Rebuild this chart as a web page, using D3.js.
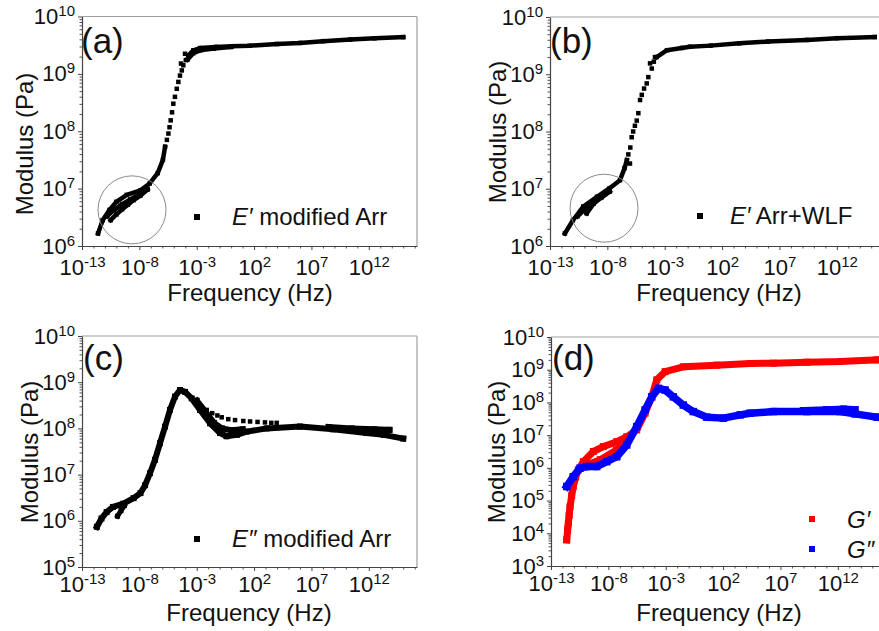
<!DOCTYPE html>
<html>
<head>
<meta charset="utf-8">
<script src="https://cdn.jsdelivr.net/npm/d3@7"></script>
<style>
  body { margin: 0; background: #fff; }
  svg { display: block; font-family: "Liberation Sans", Arial, sans-serif; }
</style>
</head>
<body>
<div id="chart"></div>
<script>
// every point is [log10 frequency (Hz), log10 modulus (Pa)]

// (a) E' modified Arrhenius
var aLowMain = [[-11.6, 6.22], [-11.2, 6.45], [-10.6, 6.63], [-10.0, 6.77], [-9.1, 6.89], [-7.9, 6.97],
  [-7.1, 7.09], [-6.4, 7.27], [-5.95, 7.5], [-5.76, 7.73]];
var aLowMid = [[-10.8, 6.52], [-10.2, 6.63], [-9.5, 6.73], [-8.8, 6.81], [-8.0, 6.9], [-7.3, 7.0]];
var aLowBranch = [[-10.5, 6.45], [-10.0, 6.55], [-9.5, 6.64], [-9.0, 6.72], [-8.5, 6.8], [-7.9, 6.88], [-7.3, 6.98]];
var aRise = [[-5.6, 7.85], [-5.47, 7.96], [-5.37, 8.07], [-5.27, 8.19], [-5.15, 8.33], [-5.04, 8.48], [-4.9, 8.6],
  [-4.74, 8.74], [-4.6, 8.86], [-4.46, 8.97], [-4.3, 9.06], [-4.17, 9.15], [-3.95, 9.24], [-4.37, 9.18], [-4.02, 9.35]];
var aPlateau = [[-3.73, 9.32], [-3.3, 9.41], [-2.7, 9.45], [-1.3, 9.47], [0, 9.48], [1.6, 9.49], [4, 9.52],
  [6, 9.54], [8, 9.57], [10.4, 9.6], [12.5, 9.62], [15, 9.64]];
var aKnee = [[-3.8, 9.25], [-3.3, 9.36], [-2.7, 9.41], [-1.5, 9.44], [0, 9.47]];

// (b) E' Arrhenius + WLF
var bLowMain = [[-11.7, 6.22], [-11.0, 6.45], [-10.1, 6.69], [-8.9, 6.86], [-7.8, 7.01], [-6.9, 7.15],
  [-6.5, 7.36], [-6.3, 7.5]];
var bLowMid = [[-10.6, 6.52], [-10.0, 6.63], [-9.3, 6.75], [-8.6, 6.84], [-7.8, 6.96]];
var bLowBranch = [[-9.8, 6.57], [-9.2, 6.74], [-8.5, 6.85], [-7.8, 6.95]];
var bRise = [[-6.17, 7.6], [-6.03, 7.44], [-6.0, 7.72], [-5.88, 7.9], [-5.75, 8.0], [-5.6, 8.1], [-5.44, 8.19],
  [-5.3, 8.32], [-5.15, 8.55], [-5.0, 8.64], [-4.8, 8.75], [-4.57, 8.84], [-4.43, 8.95], [-4.28, 9.19],
  [-4.13, 9.1], [-3.95, 9.22], [-3.85, 9.3]];
var bPlateau = [[-3.7, 9.3], [-2.8, 9.42], [-1.5, 9.46], [-0.8, 9.48], [1, 9.5], [3.5, 9.54], [6, 9.57],
  [9.4, 9.6], [12, 9.63], [15.3, 9.65]];

// (c) E'' modified Arrhenius
var cMain = [[-11.7, 5.87], [-11.3, 6.05], [-10.85, 6.19], [-10.3, 6.3], [-9.4, 6.37], [-8.5, 6.49], [-7.9, 6.6],
  [-7.5, 6.77], [-7.07, 7.03], [-6.64, 7.32], [-6.2, 7.68], [-5.76, 8.04], [-5.33, 8.4], [-4.89, 8.69],
  [-4.46, 8.83], [-4.02, 8.79], [-3.44, 8.65], [-2.71, 8.4], [-1.84, 8.11], [-0.97, 7.9], [-0.4, 7.83],
  [0.5, 7.86], [1.35, 7.93], [3.1, 8.0], [6.0, 8.04], [8.9, 7.98], [11.8, 7.9], [13.3, 7.86], [15.0, 7.78]];
var cHook = [[-9.9, 6.1], [-9.6, 6.22], [-9.3, 6.33]];
var cShoulder = [[-3.0, 8.6], [-2.2, 8.35], [-1.5, 8.12], [-0.8, 8.0], [0, 7.96], [1, 7.98]];
var cTail = [[8.5, 8.03], [10.5, 8.0], [12.5, 7.98], [13.8, 7.97]];
var cUpper = [[-2.13, 8.4], [-1.65, 8.33], [-1.2, 8.28], [-0.82, 8.24], [-0.25, 8.2], [0.34, 8.18], [1.06, 8.16],
  [1.65, 8.15], [2.3, 8.14], [2.95, 8.13], [3.5, 8.12], [3.97, 8.12]];

// (d) G' and G''
var dStorage = [[-11.63, 3.8], [-11.55, 4.1], [-11.49, 4.31], [-11.42, 4.55], [-11.34, 4.81], [-11.2, 5.15],
  [-11.06, 5.43], [-10.85, 5.72], [-10.62, 5.94], [-10.18, 6.19], [-9.31, 6.5], [-8.44, 6.65], [-7.27, 6.8],
  [-6.4, 6.95], [-5.53, 7.16], [-4.8, 7.67], [-4.22, 8.17], [-3.78, 8.69], [-3.06, 8.94], [-1.47, 9.09],
  [1.45, 9.14], [4.35, 9.19], [6.4, 9.2], [9.3, 9.23], [12.2, 9.25], [15.4, 9.3]];
var dStorageBranch = [[-9.8, 6.1], [-8.7, 6.25], [-7.3, 6.55], [-6.2, 6.9]];
var dLoss = [[-11.63, 5.43], [-11.06, 5.73], [-10.47, 5.99], [-9.89, 6.04], [-9.02, 6.04], [-8.14, 6.19],
  [-7.27, 6.34], [-6.4, 6.7], [-5.53, 7.26], [-4.8, 7.77], [-4.22, 8.17], [-3.64, 8.43], [-3.06, 8.38],
  [-2.34, 8.17], [-1.47, 7.92], [-0.6, 7.72], [0.57, 7.55], [2.02, 7.52], [3.5, 7.62], [4.35, 7.67],
  [6.38, 7.72], [9.3, 7.72], [12.2, 7.72], [13.5, 7.65], [15.4, 7.55]];
var dLossUpper = [[9, 7.75], [11, 7.78], [12.5, 7.8], [13.5, 7.78]];

var xTicks = [-13, -8, -3, 2, 7, 12];
var yTicksAB = [6, 7, 8, 9, 10];
var yTicksC = [5, 6, 7, 8, 9, 10];
var yTicksD = [3, 4, 5, 6, 7, 8, 9, 10];

function p10(v) { return Math.pow(10, v); }

var svg = d3.select("#chart").append("svg")
  .attr("width", 879)
  .attr("height", 631);

var panels = [
  { label: "(a)", left: 82, right: 417, top: 16.5, bottom: 246, yTicks: yTicksAB, tickY: 29,
    labelX: 81, labelY: 53, xTitleX: 250, xTitleY: 301, yTitleX: 33, yTitleY: 144,
    lines: [{ data: aLowMain, color: "#000", w: 4.5 }, { data: aLowMid, color: "#000", w: 4.5 },
      { data: aLowBranch, color: "#000", w: 4.5 },
      { data: aKnee, color: "#000", w: 4.5 }, { data: aPlateau, color: "#000", w: 4.5 }],
    dots: [{ data: aRise, color: "#000", s: 4.5 }],
    circle: [-8.64, 6.63],
    legend: [{ x: 197, y: 217, color: "#000", it: "E\u2032", rest: " modified Arr", tx: 232, ty: 225 }] },
  { label: "(b)", left: 550, right: 885, top: 17, bottom: 246, yTicks: yTicksAB, tickY: 29,
    labelX: 550, labelY: 53, xTitleX: 719, xTitleY: 301, yTitleX: 506, yTitleY: 132,
    lines: [{ data: bLowMain, color: "#000", w: 4.5 }, { data: bLowMid, color: "#000", w: 4.5 },
      { data: bLowBranch, color: "#000", w: 4.5 }, { data: bPlateau, color: "#000", w: 4.5 }],
    dots: [{ data: bRise, color: "#000", s: 4.5 }],
    circle: [-8.29, 6.66],
    legend: [{ x: 700, y: 216, color: "#000", it: "E\u2032", rest: " Arr+WLF", tx: 730, ty: 224 }] },
  { label: "(c)", left: 82, right: 417, top: 336, bottom: 567, yTicks: yTicksC, tickY: 25,
    labelX: 83, labelY: 370, xTitleX: 249, xTitleY: 621, yTitleX: 38, yTitleY: 452,
    lines: [{ data: cMain, color: "#000", w: 6 }, { data: cHook, color: "#000", w: 5 },
      { data: cShoulder, color: "#000", w: 6 }, { data: cTail, color: "#000", w: 6 }],
    dots: [{ data: cUpper, color: "#000", s: 4.5 }],
    legend: [{ x: 197, y: 539, color: "#000", it: "E\u2033", rest: " modified Arr", tx: 232, ty: 547 }] },
  { label: "(d)", left: 551, right: 886, top: 337, bottom: 566, yTicks: yTicksD, tickY: 25,
    labelX: 552, labelY: 370, xTitleX: 719, xTitleY: 621, yTitleX: 505, yTitleY: 452,
    lines: [{ data: dStorage, color: "#ff0000", w: 7 }, { data: dStorageBranch, color: "#ff0000", w: 7 },
      { data: dLoss, color: "#0000ff", w: 7.5 }, { data: dLossUpper, color: "#0000ff", w: 7 }],
    dots: [],
    legend: [{ x: 812, y: 519, color: "#ff0000", it: "G\u2032", rest: "", tx: 847, ty: 528 },
      { x: 812, y: 549, color: "#0000ff", it: "G\u2033", rest: "", tx: 847, ty: 558 }] }
];

panels.forEach(function (p) {
  var x = d3.scaleLog().domain([1e-13, p10(16.2)]).range([p.left, p.right]);
  var y = d3.scaleLog().domain([p10(p.yTicks[0]), p10(p.yTicks[p.yTicks.length - 1])]).range([p.bottom, p.top]);

  // light frame on top and right
  svg.append("line").attr("x1", p.left).attr("x2", p.right).attr("y1", p.top).attr("y2", p.top)
    .attr("stroke", "#a0a0a0").attr("stroke-width", 1.2);
  svg.append("line").attr("x1", p.right).attr("x2", p.right).attr("y1", p.top).attr("y2", p.bottom)
    .attr("stroke", "#a0a0a0").attr("stroke-width", 1.2);

  // minor ticks
  var minorX = [];
  for (var e = -13; e <= 16; e++) if (xTicks.indexOf(e) < 0) minorX.push(p10(e));
  var minorY = [];
  for (var k = p.yTicks[0]; k < p.yTicks[p.yTicks.length - 1]; k++)
    for (var m = 2; m <= 9; m++) minorY.push(m * p10(k));

  var gxm = svg.append("g").attr("transform", "translate(0," + p.bottom + ")")
    .call(d3.axisBottom(x).tickValues(minorX).tickSize(2.5).tickSizeOuter(0).tickFormat(""));
  gxm.select(".domain").remove();
  gxm.selectAll("line").attr("stroke", "#555");
  var gym = svg.append("g").attr("transform", "translate(" + p.left + ",0)")
    .call(d3.axisLeft(y).tickValues(minorY).tickSize(2.5).tickSizeOuter(0).tickFormat(""));
  gym.select(".domain").remove();
  gym.selectAll("line").attr("stroke", "#555");

  // major ticks with 10^n labels
  var gx = svg.append("g").attr("transform", "translate(0," + p.bottom + ")")
    .call(d3.axisBottom(x).tickValues(xTicks.map(p10)).tickSize(4).tickSizeOuter(0));
  var gy = svg.append("g").attr("transform", "translate(" + p.left + ",0)")
    .call(d3.axisLeft(y).tickValues(p.yTicks.map(p10)).tickSize(4).tickSizeOuter(0));

  [gx, gy].forEach(function (g) {
    g.attr("font-family", null).attr("font-size", null);
    g.select(".domain").attr("stroke", "#444").attr("stroke-width", 1.2);
    g.selectAll(".tick line").attr("stroke", "#444");
  });

  gx.selectAll(".tick text").each(function (d) {
    var ex = Math.round(Math.log10(d));
    var t = d3.select(this).text(null).attr("y", p.tickY).attr("dy", null)
      .attr("fill", "#111").attr("font-size", 22).attr("text-anchor", "middle");
    t.append("tspan").text("10");
    t.append("tspan").attr("dy", -8).attr("font-size", 15).text(ex);
  });
  gy.selectAll(".tick text").each(function (d) {
    var ex = Math.round(Math.log10(d));
    var t = d3.select(this).text(null).attr("x", -7).attr("y", 7).attr("dy", null)
      .attr("fill", "#111").attr("font-size", 22).attr("text-anchor", "end");
    t.append("tspan").text("10");
    t.append("tspan").attr("dy", -8).attr("font-size", 15).text(ex);
  });

  // data
  var line = d3.line()
    .x(function (d) { return x(p10(d[0])); })
    .y(function (d) { return y(p10(d[1])); });

  p.lines.forEach(function (s) {
    svg.append("path").datum(s.data)
      .attr("d", line)
      .attr("fill", "none")
      .attr("stroke", s.color)
      .attr("stroke-width", s.w)
      .attr("stroke-linejoin", "round")
      .attr("stroke-linecap", "square");
    svg.append("g").selectAll("rect").data(s.data).enter().append("rect")
      .attr("x", function (d) { return x(p10(d[0])) - s.w / 2; })
      .attr("y", function (d) { return y(p10(d[1])) - s.w / 2; })
      .attr("width", s.w).attr("height", s.w)
      .attr("fill", s.color);
  });
  p.dots.forEach(function (s) {
    svg.append("g").selectAll("rect").data(s.data).enter().append("rect")
      .attr("x", function (d) { return x(p10(d[0])) - s.s / 2; })
      .attr("y", function (d) { return y(p10(d[1])) - s.s / 2; })
      .attr("width", s.s).attr("height", s.s)
      .attr("fill", s.color);
  });

  if (p.circle) {
    svg.append("circle")
      .attr("cx", x(p10(p.circle[0])))
      .attr("cy", y(p10(p.circle[1])))
      .attr("r", 34)
      .attr("fill", "none")
      .attr("stroke", "#8a8a8a")
      .attr("stroke-width", 1);
  }

  // legend
  p.legend.forEach(function (l) {
    svg.append("rect").attr("x", l.x - 3).attr("y", l.y - 3).attr("width", 6).attr("height", 6).attr("fill", l.color);
    var t = svg.append("text").attr("x", l.tx).attr("y", l.ty).attr("font-size", 24).attr("fill", "#111");
    t.append("tspan").attr("font-style", "italic").text(l.it);
    if (l.rest) t.append("tspan").text(l.rest);
  });

  // panel letter and axis titles
  svg.append("text").attr("x", p.labelX).attr("y", p.labelY)
    .attr("font-size", 35).attr("fill", "#111").text(p.label);
  svg.append("text").attr("x", p.xTitleX).attr("y", p.xTitleY)
    .attr("text-anchor", "middle").attr("font-size", 24).attr("fill", "#111")
    .text("Frequency (Hz)");
  svg.append("text")
    .attr("transform", "translate(" + p.yTitleX + "," + p.yTitleY + ") rotate(-90)")
    .attr("text-anchor", "middle").attr("font-size", 24).attr("fill", "#111")
    .text("Modulus (Pa)");
});
</script>
</body>
</html>
